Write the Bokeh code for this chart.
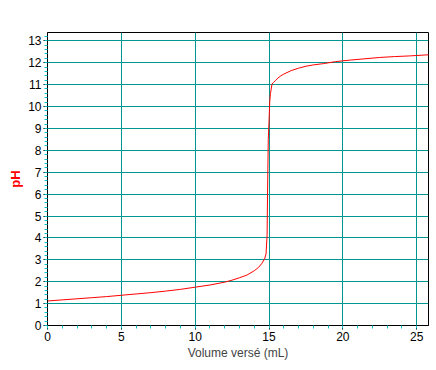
from bokeh.plotting import figure
from bokeh.models import Range1d, SingleIntervalTicker
from bokeh.embed import file_html
from bokeh.resources import INLINE

volume = [0, 1, 2, 3, 4, 5, 6, 7, 8, 9, 10, 11, 12, 12.5, 13, 13.5, 14, 14.3, 14.5, 14.7,
          14.8, 14.87, 14.9, 14.95, 15.0, 15.05, 15.1, 15.2, 15.3, 15.45, 15.6, 15.8, 16.0,
          16.5, 17.0, 17.5, 18.0, 18.7, 19.5, 20.5, 21.5, 22.5, 23.5, 24.5, 25.5, 26]
ph = [1.12, 1.17, 1.22, 1.27, 1.32, 1.38, 1.44, 1.50, 1.57, 1.65, 1.75, 1.85, 1.98, 2.07, 2.18, 2.30, 2.50, 2.66, 2.82, 3.04,
      3.27, 4.10, 6.0, 8.5, 9.30, 10.25, 10.60, 11.02, 11.10, 11.19, 11.30, 11.40, 11.48,
      11.64, 11.75, 11.84, 11.90, 11.96, 12.05, 12.12, 12.18, 12.24, 12.28, 12.31, 12.35, 12.37]

x_ticks_interval = 5
y_ticks_interval = 1

p = figure(width=432, height=362, output_backend="svg", toolbar_location=None,
           x_range=Range1d(0, 25.8), y_range=Range1d(0, 13.38),
           min_border_left=47, min_border_right=4, min_border_top=32, min_border_bottom=10)

p.line(volume, ph, line_color="red", line_width=1)

grid_color = "#009690"
p.xaxis.ticker = SingleIntervalTicker(interval=x_ticks_interval, num_minor_ticks=5)
p.yaxis.ticker = SingleIntervalTicker(interval=y_ticks_interval, num_minor_ticks=5)
p.xgrid.ticker = p.xaxis.ticker
p.ygrid.ticker = p.yaxis.ticker
for g in (p.xgrid, p.ygrid):
    g.grid_line_color = grid_color
    g.grid_line_width = 1
    g.grid_line_alpha = 1

for ax in (p.xaxis, p.yaxis):
    ax.axis_line_color = "black"
    ax.major_tick_line_color = "black"
    ax.major_tick_out = 4
    ax.major_tick_in = 0
    ax.minor_tick_line_color = "#00c8c8"
    ax.minor_tick_out = 3
    ax.minor_tick_in = 0
    ax.major_label_text_font = "Liberation Sans"
    ax.major_label_text_font_size = "12px"
    ax.major_label_text_color = "black"
    ax.major_label_standoff = 2

p.xaxis.axis_label = "Volume versé (mL)"
p.xaxis.axis_label_text_font = "Liberation Sans"
p.xaxis.axis_label_text_font_size = "12px"
p.xaxis.axis_label_text_font_style = "normal"
p.xaxis.axis_label_standoff = 2

p.yaxis.axis_label = "pH"
p.yaxis.axis_label_text_font = "Liberation Sans"
p.yaxis.axis_label_text_font_size = "13px"
p.yaxis.axis_label_text_font_style = "bold"
p.yaxis.axis_label_text_color = "red"
p.yaxis.axis_label_standoff = 2

p.outline_line_color = "black"
p.outline_line_width = 1
p.outline_line_alpha = 1
p.background_fill_color = "white"
p.border_fill_color = "white"

open("out.html", "w").write(file_html(p, INLINE))
